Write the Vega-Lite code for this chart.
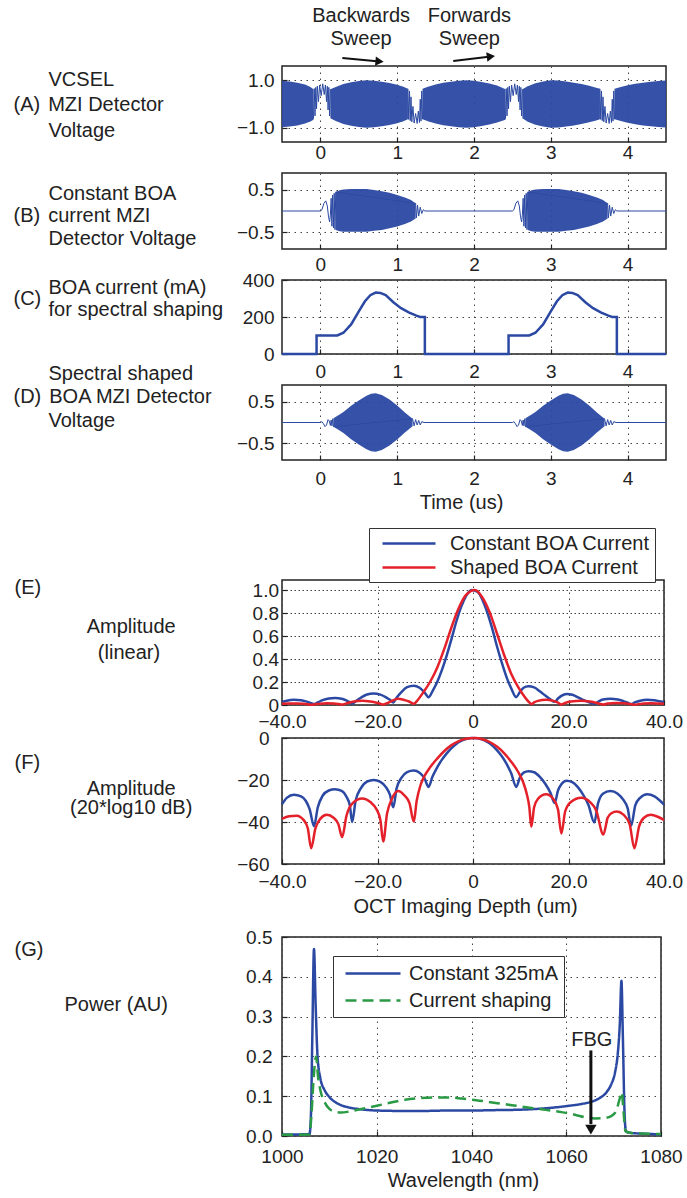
{
"$schema": "https://vega.github.io/schema/vega-lite/v6.json",
"padding": {"left": 12, "top": 5, "right": 5, "bottom": 2},
"config": {
 "font": "Liberation Sans",
 "view": {"stroke": "#222", "strokeWidth": 1.5},
 "axis": {"labelFontSize": 19, "labelColor": "#222", "titleFontSize": 20, "titleColor": "#222", "titleFontWeight": "normal", "domain": false, "tickColor": "#222", "tickSize": -5, "tickWidth": 1.2, "grid": true, "gridColor": "#444", "gridDash": [1.5, 4.5], "gridWidth": 1, "labelFlush": false, "labelOverlap": false},
 "legend": {"labelFontSize": 20, "labelColor": "#222", "strokeColor": "#333", "fillColor": "white", "symbolStrokeWidth": 2.5, "labelLimit": 400}
},
"datasets": {
 "envA": [
  {"seg":1,"t":-0.5,"v":-0.98,"v2":0.98},{"seg":1,"t":-0.4,"v":-0.95,"v2":0.95},{"seg":1,"t":-0.3,"v":-0.9,"v2":0.9},{"seg":1,"t":-0.2,"v":-0.82,"v2":0.82},{"seg":1,"t":-0.13,"v":-0.74,"v2":0.72},{"seg":1,"t":-0.09,"v":-0.66,"v2":0.62},
  {"seg":2,"t":0.13,"v":-0.6,"v2":0.62},{"seg":2,"t":0.2,"v":-0.72,"v2":0.72},{"seg":2,"t":0.3,"v":-0.84,"v2":0.84},{"seg":2,"t":0.4,"v":-0.92,"v2":0.92},{"seg":2,"t":0.5,"v":-0.97,"v2":0.97},{"seg":2,"t":0.6,"v":-1.0,"v2":1.0},{"seg":2,"t":0.7,"v":-0.98,"v2":0.98},{"seg":2,"t":0.8,"v":-0.94,"v2":0.94},{"seg":2,"t":0.9,"v":-0.88,"v2":0.88},{"seg":2,"t":1.0,"v":-0.81,"v2":0.81},{"seg":2,"t":1.08,"v":-0.73,"v2":0.73},{"seg":2,"t":1.14,"v":-0.64,"v2":0.64},
  {"seg":3,"t":1.33,"v":-0.64,"v2":0.64},{"seg":3,"t":1.4,"v":-0.73,"v2":0.73},{"seg":3,"t":1.5,"v":-0.82,"v2":0.82},{"seg":3,"t":1.6,"v":-0.89,"v2":0.89},{"seg":3,"t":1.7,"v":-0.94,"v2":0.94},{"seg":3,"t":1.8,"v":-0.98,"v2":0.98},{"seg":3,"t":1.9,"v":-1.0,"v2":1.0},{"seg":3,"t":2.0,"v":-0.98,"v2":0.98},{"seg":3,"t":2.1,"v":-0.93,"v2":0.93},{"seg":3,"t":2.2,"v":-0.86,"v2":0.86},{"seg":3,"t":2.3,"v":-0.78,"v2":0.78},{"seg":3,"t":2.36,"v":-0.72,"v2":0.7},{"seg":3,"t":2.41,"v":-0.66,"v2":0.62},
  {"seg":4,"t":2.63,"v":-0.6,"v2":0.62},{"seg":4,"t":2.7,"v":-0.75,"v2":0.75},{"seg":4,"t":2.8,"v":-0.87,"v2":0.87},{"seg":4,"t":2.9,"v":-0.95,"v2":0.95},{"seg":4,"t":3.0,"v":-1.0,"v2":1.0},{"seg":4,"t":3.1,"v":-0.99,"v2":0.99},{"seg":4,"t":3.2,"v":-0.95,"v2":0.95},{"seg":4,"t":3.3,"v":-0.9,"v2":0.9},{"seg":4,"t":3.4,"v":-0.84,"v2":0.84},{"seg":4,"t":3.5,"v":-0.77,"v2":0.77},{"seg":4,"t":3.58,"v":-0.7,"v2":0.7},{"seg":4,"t":3.64,"v":-0.64,"v2":0.64},
  {"seg":5,"t":3.83,"v":-0.64,"v2":0.64},{"seg":5,"t":3.9,"v":-0.71,"v2":0.71},{"seg":5,"t":4.0,"v":-0.79,"v2":0.79},{"seg":5,"t":4.1,"v":-0.85,"v2":0.85},{"seg":5,"t":4.2,"v":-0.9,"v2":0.9},{"seg":5,"t":4.3,"v":-0.94,"v2":0.94},{"seg":5,"t":4.4,"v":-0.97,"v2":0.97},{"seg":5,"t":4.5,"v":-0.99,"v2":0.99}
 ],
 "wigA": [
  {"seg":1,"t":-0.09,"v":-0.62},{"seg":1,"t":-0.08,"v":0.65},{"seg":1,"t":-0.07,"v":-0.5},{"seg":1,"t":-0.06,"v":0.7},{"seg":1,"t":-0.05,"v":-0.2},{"seg":1,"t":-0.04,"v":0.75},{"seg":1,"t":-0.025,"v":0.1},{"seg":1,"t":-0.01,"v":0.8},{"seg":1,"t":0.01,"v":0.35},{"seg":1,"t":0.03,"v":0.85},{"seg":1,"t":0.05,"v":0.4},{"seg":1,"t":0.065,"v":0.8},{"seg":1,"t":0.08,"v":0.1},{"seg":1,"t":0.09,"v":0.75},{"seg":1,"t":0.1,"v":-0.25},{"seg":1,"t":0.11,"v":0.7},{"seg":1,"t":0.12,"v":-0.5},{"seg":1,"t":0.13,"v":0.62},
  {"seg":2,"t":1.14,"v":0.64},{"seg":2,"t":1.15,"v":-0.65},{"seg":2,"t":1.16,"v":0.55},{"seg":2,"t":1.17,"v":-0.7},{"seg":2,"t":1.18,"v":0.3},{"seg":2,"t":1.19,"v":-0.75},{"seg":2,"t":1.205,"v":-0.1},{"seg":2,"t":1.22,"v":-0.8},{"seg":2,"t":1.24,"v":-0.4},{"seg":2,"t":1.26,"v":-0.82},{"seg":2,"t":1.275,"v":-0.3},{"seg":2,"t":1.29,"v":-0.78},{"seg":2,"t":1.3,"v":0.2},{"seg":2,"t":1.31,"v":-0.72},{"seg":2,"t":1.32,"v":0.55},{"seg":2,"t":1.33,"v":-0.64},
  {"seg":3,"t":2.41,"v":-0.62},{"seg":3,"t":2.42,"v":0.65},{"seg":3,"t":2.43,"v":-0.5},{"seg":3,"t":2.44,"v":0.7},{"seg":3,"t":2.45,"v":-0.2},{"seg":3,"t":2.46,"v":0.75},{"seg":3,"t":2.475,"v":0.1},{"seg":3,"t":2.49,"v":0.8},{"seg":3,"t":2.51,"v":0.35},{"seg":3,"t":2.53,"v":0.85},{"seg":3,"t":2.55,"v":0.4},{"seg":3,"t":2.565,"v":0.8},{"seg":3,"t":2.58,"v":0.1},{"seg":3,"t":2.59,"v":0.75},{"seg":3,"t":2.6,"v":-0.25},{"seg":3,"t":2.61,"v":0.7},{"seg":3,"t":2.62,"v":-0.5},{"seg":3,"t":2.63,"v":0.62},
  {"seg":4,"t":3.64,"v":0.64},{"seg":4,"t":3.65,"v":-0.65},{"seg":4,"t":3.66,"v":0.55},{"seg":4,"t":3.67,"v":-0.7},{"seg":4,"t":3.68,"v":0.3},{"seg":4,"t":3.69,"v":-0.75},{"seg":4,"t":3.705,"v":-0.1},{"seg":4,"t":3.72,"v":-0.8},{"seg":4,"t":3.74,"v":-0.4},{"seg":4,"t":3.76,"v":-0.82},{"seg":4,"t":3.775,"v":-0.3},{"seg":4,"t":3.79,"v":-0.78},{"seg":4,"t":3.8,"v":0.2},{"seg":4,"t":3.81,"v":-0.72},{"seg":4,"t":3.82,"v":0.55},{"seg":4,"t":3.83,"v":-0.64}
 ],
 "sweepText": [{"t":0.53,"v":3.71,"label":"Backwards\nSweep"},{"t":1.94,"v":3.71,"label":"Forwards\nSweep"}],
 "sweepArrows": [{"t":0.286,"v":1.94,"t2":0.77,"v2":1.79},{"t":1.73,"v":1.81,"t2":2.22,"v2":2.0}],
 "headBack": [{"t":0.77,"v":1.79}],
 "headFwd": [{"t":2.22,"v":2.0}],
 "lineB": [
  {"t":-0.5,"v":0},{"t":0.0,"v":0},{"t":0.02,"v":0.03},{"t":0.045,"v":0.18},{"t":0.07,"v":0.24},{"t":0.09,"v":0.12},{"t":0.105,"v":-0.12},{"t":0.12,"v":-0.26},{"t":0.13,"v":-0.1},{"t":0.14,"v":0.3},{"t":0.15,"v":-0.36},{"t":0.16,"v":0.38},{"t":0.17,"v":-0.4},{"t":0.18,"v":0.42},{"t":0.19,"v":-0.44},{"t":0.2,"v":0.45},
  {"t":1.24,"v":0.18},{"t":1.25,"v":-0.16},{"t":1.265,"v":0.14},{"t":1.28,"v":-0.12},{"t":1.3,"v":0.09},{"t":1.32,"v":-0.06},{"t":1.34,"v":0.03},{"t":1.36,"v":0},
  {"t":2.5,"v":0},{"t":2.52,"v":0.03},{"t":2.545,"v":0.18},{"t":2.57,"v":0.24},{"t":2.59,"v":0.12},{"t":2.605,"v":-0.12},{"t":2.62,"v":-0.26},{"t":2.63,"v":-0.1},{"t":2.64,"v":0.3},{"t":2.65,"v":-0.36},{"t":2.66,"v":0.38},{"t":2.67,"v":-0.4},{"t":2.68,"v":0.42},{"t":2.69,"v":-0.44},{"t":2.7,"v":0.45},
  {"t":3.74,"v":0.18},{"t":3.75,"v":-0.16},{"t":3.765,"v":0.14},{"t":3.78,"v":-0.12},{"t":3.8,"v":0.09},{"t":3.82,"v":-0.06},{"t":3.84,"v":0.03},{"t":3.86,"v":0},{"t":4.5,"v":0}
 ],
 "envB": [
  {"seg":1,"t":0.2,"v":-0.45,"v2":0.45},{"seg":1,"t":0.25,"v":-0.48,"v2":0.49},{"seg":1,"t":0.3,"v":-0.49,"v2":0.51},{"seg":1,"t":0.4,"v":-0.49,"v2":0.52},{"seg":1,"t":0.5,"v":-0.49,"v2":0.52},{"seg":1,"t":0.6,"v":-0.49,"v2":0.52},{"seg":1,"t":0.7,"v":-0.47,"v2":0.5},{"seg":1,"t":0.8,"v":-0.45,"v2":0.47},{"seg":1,"t":0.9,"v":-0.41,"v2":0.43},{"seg":1,"t":1.0,"v":-0.37,"v2":0.38},{"seg":1,"t":1.1,"v":-0.31,"v2":0.32},{"seg":1,"t":1.18,"v":-0.25,"v2":0.26},{"seg":1,"t":1.24,"v":-0.18,"v2":0.18},
  {"seg":2,"t":2.7,"v":-0.45,"v2":0.45},{"seg":2,"t":2.75,"v":-0.48,"v2":0.49},{"seg":2,"t":2.8,"v":-0.49,"v2":0.51},{"seg":2,"t":2.9,"v":-0.49,"v2":0.52},{"seg":2,"t":3.0,"v":-0.49,"v2":0.52},{"seg":2,"t":3.1,"v":-0.49,"v2":0.52},{"seg":2,"t":3.2,"v":-0.47,"v2":0.5},{"seg":2,"t":3.3,"v":-0.45,"v2":0.47},{"seg":2,"t":3.4,"v":-0.41,"v2":0.43},{"seg":2,"t":3.5,"v":-0.37,"v2":0.38},{"seg":2,"t":3.6,"v":-0.31,"v2":0.32},{"seg":2,"t":3.68,"v":-0.25,"v2":0.26},{"seg":2,"t":3.74,"v":-0.18,"v2":0.18}
 ],
 "lineC": [
  {"i":1,"t":-0.5,"v":0},{"i":2,"t":-0.05,"v":0},{"i":3,"t":-0.05,"v":100},{"i":4,"t":0.22,"v":100},{"i":5,"t":0.3,"v":115},{"i":6,"t":0.4,"v":160},{"i":7,"t":0.5,"v":230},{"i":8,"t":0.58,"v":285},{"i":9,"t":0.65,"v":318},{"i":10,"t":0.72,"v":332},{"i":11,"t":0.78,"v":330},{"i":12,"t":0.85,"v":318},{"i":13,"t":0.95,"v":280},{"i":14,"t":1.05,"v":248},{"i":15,"t":1.15,"v":225},{"i":16,"t":1.25,"v":207},{"i":17,"t":1.3,"v":200},{"i":18,"t":1.36,"v":200},{"i":19,"t":1.36,"v":0},
  {"i":20,"t":2.45,"v":0},{"i":21,"t":2.45,"v":100},{"i":22,"t":2.72,"v":100},{"i":23,"t":2.8,"v":115},{"i":24,"t":2.9,"v":160},{"i":25,"t":3.0,"v":230},{"i":26,"t":3.08,"v":285},{"i":27,"t":3.15,"v":318},{"i":28,"t":3.22,"v":332},{"i":29,"t":3.28,"v":330},{"i":30,"t":3.35,"v":318},{"i":31,"t":3.45,"v":280},{"i":32,"t":3.55,"v":248},{"i":33,"t":3.65,"v":225},{"i":34,"t":3.75,"v":207},{"i":35,"t":3.8,"v":200},{"i":36,"t":3.86,"v":200},{"i":37,"t":3.86,"v":0},{"i":38,"t":4.5,"v":0}
 ],
 "lineD": [
  {"t":-0.5,"v":0},{"t":0.0,"v":0},{"t":0.02,"v":0.02},{"t":0.04,"v":-0.03},{"t":0.06,"v":-0.1},{"t":0.08,"v":-0.06},{"t":0.1,"v":0.07},{"t":0.115,"v":0.04},{"t":0.13,"v":-0.07},{"t":0.14,"v":0.06},{"t":0.15,"v":-0.08},{"t":0.16,"v":0.09},{"t":0.17,"v":-0.1},
  {"t":1.2,"v":0.09},{"t":1.22,"v":-0.08},{"t":1.24,"v":0.07},{"t":1.26,"v":-0.06},{"t":1.28,"v":0.05},{"t":1.3,"v":-0.06},{"t":1.32,"v":0.02},{"t":1.35,"v":0},
  {"t":2.5,"v":0},{"t":2.52,"v":0.02},{"t":2.54,"v":-0.03},{"t":2.56,"v":-0.1},{"t":2.58,"v":-0.06},{"t":2.6,"v":0.07},{"t":2.615,"v":0.04},{"t":2.63,"v":-0.07},{"t":2.64,"v":0.06},{"t":2.65,"v":-0.08},{"t":2.66,"v":0.09},{"t":2.67,"v":-0.1},
  {"t":3.7,"v":0.09},{"t":3.72,"v":-0.08},{"t":3.74,"v":0.07},{"t":3.76,"v":-0.06},{"t":3.78,"v":0.05},{"t":3.8,"v":-0.06},{"t":3.82,"v":0.02},{"t":3.85,"v":0},{"t":4.5,"v":0}
 ],
 "envD": [
  {"seg":1,"t":0.17,"v":-0.1,"v2":0.1},{"seg":1,"t":0.25,"v":-0.19,"v2":0.19},{"seg":1,"t":0.3,"v":-0.25,"v2":0.25},{"seg":1,"t":0.4,"v":-0.4,"v2":0.4},{"seg":1,"t":0.5,"v":-0.53,"v2":0.53},{"seg":1,"t":0.6,"v":-0.64,"v2":0.64},{"seg":1,"t":0.66,"v":-0.69,"v2":0.69},{"seg":1,"t":0.72,"v":-0.7,"v2":0.7},{"seg":1,"t":0.8,"v":-0.66,"v2":0.66},{"seg":1,"t":0.9,"v":-0.55,"v2":0.55},{"seg":1,"t":1.0,"v":-0.41,"v2":0.41},{"seg":1,"t":1.1,"v":-0.24,"v2":0.24},{"seg":1,"t":1.2,"v":-0.09,"v2":0.09},
  {"seg":2,"t":2.67,"v":-0.1,"v2":0.1},{"seg":2,"t":2.75,"v":-0.19,"v2":0.19},{"seg":2,"t":2.8,"v":-0.25,"v2":0.25},{"seg":2,"t":2.9,"v":-0.4,"v2":0.4},{"seg":2,"t":3.0,"v":-0.53,"v2":0.53},{"seg":2,"t":3.1,"v":-0.64,"v2":0.64},{"seg":2,"t":3.16,"v":-0.69,"v2":0.69},{"seg":2,"t":3.22,"v":-0.7,"v2":0.7},{"seg":2,"t":3.3,"v":-0.66,"v2":0.66},{"seg":2,"t":3.4,"v":-0.55,"v2":0.55},{"seg":2,"t":3.5,"v":-0.41,"v2":0.41},{"seg":2,"t":3.6,"v":-0.24,"v2":0.24},{"seg":2,"t":3.7,"v":-0.09,"v2":0.09}
 ],
 "psf": [
  {"curve":"Constant BOA Current","x":-40,"db":-31.5,"amp":0.0266},{"curve":"Constant BOA Current","x":-39,"db":-28.5,"amp":0.0376},{"curve":"Constant BOA Current","x":-37.5,"db":-27,"amp":0.0447},{"curve":"Constant BOA Current","x":-36,"db":-27.8,"amp":0.0407},{"curve":"Constant BOA Current","x":-35,"db":-30,"amp":0.0316},{"curve":"Constant BOA Current","x":-34.2,"db":-34,"amp":0.02},{"curve":"Constant BOA Current","x":-33.3,"db":-42,"amp":0.0079},{"curve":"Constant BOA Current","x":-32.5,"db":-33,"amp":0.0224},{"curve":"Constant BOA Current","x":-31.5,"db":-27.5,"amp":0.0422},{"curve":"Constant BOA Current","x":-30.2,"db":-25,"amp":0.0562},{"curve":"Constant BOA Current","x":-28.9,"db":-24.4,"amp":0.0603},{"curve":"Constant BOA Current","x":-27.5,"db":-25.2,"amp":0.055},{"curve":"Constant BOA Current","x":-26.5,"db":-28,"amp":0.0398},{"curve":"Constant BOA Current","x":-25.8,"db":-32,"amp":0.0251},{"curve":"Constant BOA Current","x":-25.3,"db":-40,"amp":0.01},{"curve":"Constant BOA Current","x":-24.6,"db":-30,"amp":0.0316},{"curve":"Constant BOA Current","x":-23.5,"db":-24,"amp":0.0631},{"curve":"Constant BOA Current","x":-22.2,"db":-20.8,"amp":0.0912},{"curve":"Constant BOA Current","x":-20.8,"db":-20,"amp":0.1},{"curve":"Constant BOA Current","x":-19.4,"db":-20.9,"amp":0.0902},{"curve":"Constant BOA Current","x":-18.2,"db":-23.5,"amp":0.0668},{"curve":"Constant BOA Current","x":-17.4,"db":-27,"amp":0.0447},{"curve":"Constant BOA Current","x":-16.7,"db":-33,"amp":0.0224},{"curve":"Constant BOA Current","x":-16,"db":-24,"amp":0.0631},{"curve":"Constant BOA Current","x":-15,"db":-19,"amp":0.112},{"curve":"Constant BOA Current","x":-13.8,"db":-16.2,"amp":0.155},{"curve":"Constant BOA Current","x":-12.4,"db":-15.5,"amp":0.168},{"curve":"Constant BOA Current","x":-11.2,"db":-16.5,"amp":0.15},{"curve":"Constant BOA Current","x":-10.2,"db":-19,"amp":0.112},{"curve":"Constant BOA Current","x":-9.3,"db":-23.3,"amp":0.0684},{"curve":"Constant BOA Current","x":-8.5,"db":-18.5,"amp":0.119},{"curve":"Constant BOA Current","x":-7.5,"db":-14,"amp":0.2},{"curve":"Constant BOA Current","x":-6.5,"db":-10.3,"amp":0.305},{"curve":"Constant BOA Current","x":-5.5,"db":-7.3,"amp":0.432},{"curve":"Constant BOA Current","x":-4.5,"db":-4.8,"amp":0.575},{"curve":"Constant BOA Current","x":-3.5,"db":-2.8,"amp":0.724},{"curve":"Constant BOA Current","x":-2.5,"db":-1.4,"amp":0.851},{"curve":"Constant BOA Current","x":-1.5,"db":-0.5,"amp":0.944},{"curve":"Constant BOA Current","x":-0.3,"db":0,"amp":1.0},{"curve":"Constant BOA Current","x":1,"db":-0.15,"amp":0.983},{"curve":"Constant BOA Current","x":2,"db":-0.8,"amp":0.912},{"curve":"Constant BOA Current","x":3,"db":-1.9,"amp":0.804},{"curve":"Constant BOA Current","x":4,"db":-3.5,"amp":0.668},{"curve":"Constant BOA Current","x":5,"db":-5.8,"amp":0.513},{"curve":"Constant BOA Current","x":6,"db":-8.6,"amp":0.372},{"curve":"Constant BOA Current","x":7,"db":-12.2,"amp":0.245},{"curve":"Constant BOA Current","x":8,"db":-16.8,"amp":0.145},{"curve":"Constant BOA Current","x":9.06,"db":-23.3,"amp":0.0684},{"curve":"Constant BOA Current","x":9.8,"db":-19,"amp":0.112},{"curve":"Constant BOA Current","x":10.6,"db":-16.5,"amp":0.15},{"curve":"Constant BOA Current","x":11.6,"db":-15.8,"amp":0.162},{"curve":"Constant BOA Current","x":12.8,"db":-16.3,"amp":0.153},{"curve":"Constant BOA Current","x":14,"db":-18.5,"amp":0.119},{"curve":"Constant BOA Current","x":15.2,"db":-22,"amp":0.0794},{"curve":"Constant BOA Current","x":16.2,"db":-26,"amp":0.0501},{"curve":"Constant BOA Current","x":17.1,"db":-31,"amp":0.0282},{"curve":"Constant BOA Current","x":17.8,"db":-25,"amp":0.0562},{"curve":"Constant BOA Current","x":18.5,"db":-22,"amp":0.0794},{"curve":"Constant BOA Current","x":19.6,"db":-20.3,"amp":0.0966},{"curve":"Constant BOA Current","x":20.8,"db":-21,"amp":0.0891},{"curve":"Constant BOA Current","x":22,"db":-23.5,"amp":0.0668},{"curve":"Constant BOA Current","x":23.2,"db":-27.5,"amp":0.0422},{"curve":"Constant BOA Current","x":24.2,"db":-32,"amp":0.0251},{"curve":"Constant BOA Current","x":25.4,"db":-40.2,"amp":0.0098},{"curve":"Constant BOA Current","x":26.2,"db":-31,"amp":0.0282},{"curve":"Constant BOA Current","x":27.2,"db":-26.5,"amp":0.0473},{"curve":"Constant BOA Current","x":28.8,"db":-25.2,"amp":0.055},{"curve":"Constant BOA Current","x":30.3,"db":-26.5,"amp":0.0473},{"curve":"Constant BOA Current","x":31.5,"db":-29.5,"amp":0.0335},{"curve":"Constant BOA Current","x":32.4,"db":-33.5,"amp":0.0211},{"curve":"Constant BOA Current","x":33.1,"db":-41.8,"amp":0.0081},{"curve":"Constant BOA Current","x":34,"db":-32,"amp":0.0251},{"curve":"Constant BOA Current","x":35,"db":-28.5,"amp":0.0376},{"curve":"Constant BOA Current","x":36.5,"db":-26.8,"amp":0.0457},{"curve":"Constant BOA Current","x":38,"db":-27.8,"amp":0.0407},{"curve":"Constant BOA Current","x":39,"db":-29.5,"amp":0.0335},{"curve":"Constant BOA Current","x":40,"db":-31.7,"amp":0.026},
  {"curve":"Shaped BOA Current","x":-40,"db":-38.5,"amp":0.0119},{"curve":"Shaped BOA Current","x":-38.5,"db":-37.3,"amp":0.0137},{"curve":"Shaped BOA Current","x":-36.9,"db":-37,"amp":0.0141},{"curve":"Shaped BOA Current","x":-35.5,"db":-39,"amp":0.0112},{"curve":"Shaped BOA Current","x":-34.6,"db":-43,"amp":0.0071},{"curve":"Shaped BOA Current","x":-33.9,"db":-52.5,"amp":0.0024},{"curve":"Shaped BOA Current","x":-33,"db":-43,"amp":0.0071},{"curve":"Shaped BOA Current","x":-32,"db":-38.5,"amp":0.0119},{"curve":"Shaped BOA Current","x":-30.6,"db":-36.6,"amp":0.0148},{"curve":"Shaped BOA Current","x":-29.2,"db":-38,"amp":0.0126},{"curve":"Shaped BOA Current","x":-28.2,"db":-41,"amp":0.0089},{"curve":"Shaped BOA Current","x":-27.4,"db":-47.2,"amp":0.0044},{"curve":"Shaped BOA Current","x":-26.5,"db":-37,"amp":0.0141},{"curve":"Shaped BOA Current","x":-25.2,"db":-31,"amp":0.0282},{"curve":"Shaped BOA Current","x":-23.2,"db":-28.8,"amp":0.0363},{"curve":"Shaped BOA Current","x":-21.5,"db":-30.5,"amp":0.0299},{"curve":"Shaped BOA Current","x":-20.2,"db":-34,"amp":0.02},{"curve":"Shaped BOA Current","x":-19.4,"db":-39,"amp":0.0112},{"curve":"Shaped BOA Current","x":-18.8,"db":-49.3,"amp":0.0034},{"curve":"Shaped BOA Current","x":-18,"db":-36,"amp":0.0158},{"curve":"Shaped BOA Current","x":-17,"db":-29,"amp":0.0355},{"curve":"Shaped BOA Current","x":-15.7,"db":-25.2,"amp":0.055},{"curve":"Shaped BOA Current","x":-14.3,"db":-27.5,"amp":0.0422},{"curve":"Shaped BOA Current","x":-13.3,"db":-31,"amp":0.0282},{"curve":"Shaped BOA Current","x":-12.4,"db":-39.8,"amp":0.0102},{"curve":"Shaped BOA Current","x":-11.8,"db":-30,"amp":0.0316},{"curve":"Shaped BOA Current","x":-11,"db":-22.5,"amp":0.075},{"curve":"Shaped BOA Current","x":-10.3,"db":-18.7,"amp":0.116},{"curve":"Shaped BOA Current","x":-9,"db":-14,"amp":0.2},{"curve":"Shaped BOA Current","x":-7.5,"db":-9.8,"amp":0.324},{"curve":"Shaped BOA Current","x":-6,"db":-6.2,"amp":0.49},{"curve":"Shaped BOA Current","x":-4.5,"db":-3.4,"amp":0.676},{"curve":"Shaped BOA Current","x":-3,"db":-1.5,"amp":0.841},{"curve":"Shaped BOA Current","x":-1.5,"db":-0.4,"amp":0.955},{"curve":"Shaped BOA Current","x":0.4,"db":0,"amp":1.0},{"curve":"Shaped BOA Current","x":2,"db":-0.6,"amp":0.933},{"curve":"Shaped BOA Current","x":3.5,"db":-1.9,"amp":0.804},{"curve":"Shaped BOA Current","x":5,"db":-4.1,"amp":0.624},{"curve":"Shaped BOA Current","x":6.5,"db":-7.2,"amp":0.437},{"curve":"Shaped BOA Current","x":8,"db":-11.3,"amp":0.272},{"curve":"Shaped BOA Current","x":9.5,"db":-16.3,"amp":0.153},{"curve":"Shaped BOA Current","x":10.5,"db":-21,"amp":0.0891},{"curve":"Shaped BOA Current","x":11.3,"db":-27,"amp":0.0447},{"curve":"Shaped BOA Current","x":11.8,"db":-33,"amp":0.0224},{"curve":"Shaped BOA Current","x":12.2,"db":-42.3,"amp":0.0077},{"curve":"Shaped BOA Current","x":12.8,"db":-33,"amp":0.0224},{"curve":"Shaped BOA Current","x":13.6,"db":-29,"amp":0.0355},{"curve":"Shaped BOA Current","x":15.3,"db":-26.8,"amp":0.0457},{"curve":"Shaped BOA Current","x":16.8,"db":-29,"amp":0.0355},{"curve":"Shaped BOA Current","x":17.8,"db":-34,"amp":0.02},{"curve":"Shaped BOA Current","x":18.5,"db":-45.5,"amp":0.0053},{"curve":"Shaped BOA Current","x":19.3,"db":-35,"amp":0.0178},{"curve":"Shaped BOA Current","x":20.5,"db":-30.5,"amp":0.0299},{"curve":"Shaped BOA Current","x":22.7,"db":-28.5,"amp":0.0376},{"curve":"Shaped BOA Current","x":24.5,"db":-30.5,"amp":0.0299},{"curve":"Shaped BOA Current","x":25.8,"db":-34.5,"amp":0.0188},{"curve":"Shaped BOA Current","x":27.3,"db":-46,"amp":0.005},{"curve":"Shaped BOA Current","x":28.2,"db":-38,"amp":0.0126},{"curve":"Shaped BOA Current","x":29,"db":-35.8,"amp":0.0162},{"curve":"Shaped BOA Current","x":30.1,"db":-35,"amp":0.0178},{"curve":"Shaped BOA Current","x":31.5,"db":-36.5,"amp":0.015},{"curve":"Shaped BOA Current","x":32.8,"db":-41,"amp":0.0089},{"curve":"Shaped BOA Current","x":33.8,"db":-52.5,"amp":0.0024},{"curve":"Shaped BOA Current","x":34.8,"db":-42,"amp":0.0079},{"curve":"Shaped BOA Current","x":35.8,"db":-38,"amp":0.0126},{"curve":"Shaped BOA Current","x":37.2,"db":-36.6,"amp":0.0148},{"curve":"Shaped BOA Current","x":38.7,"db":-37.5,"amp":0.0133},{"curve":"Shaped BOA Current","x":40,"db":-39,"amp":0.0112}
 ],
 "spec": [
  {"curve":"Constant 325mA","wl":1000,"p":0.004},{"curve":"Constant 325mA","wl":1003,"p":0.004},{"curve":"Constant 325mA","wl":1005.8,"p":0.005},{"curve":"Constant 325mA","wl":1006.1,"p":0.05},{"curve":"Constant 325mA","wl":1006.4,"p":0.25},{"curve":"Constant 325mA","wl":1006.75,"p":0.47},{"curve":"Constant 325mA","wl":1007.1,"p":0.33},{"curve":"Constant 325mA","wl":1007.5,"p":0.2},{"curve":"Constant 325mA","wl":1008.1,"p":0.145},{"curve":"Constant 325mA","wl":1009,"p":0.115},{"curve":"Constant 325mA","wl":1010,"p":0.098},{"curve":"Constant 325mA","wl":1012,"p":0.08},{"curve":"Constant 325mA","wl":1014,"p":0.072},{"curve":"Constant 325mA","wl":1016,"p":0.068},{"curve":"Constant 325mA","wl":1020,"p":0.064},{"curve":"Constant 325mA","wl":1025,"p":0.063},{"curve":"Constant 325mA","wl":1030,"p":0.063},{"curve":"Constant 325mA","wl":1035,"p":0.064},{"curve":"Constant 325mA","wl":1040,"p":0.064},{"curve":"Constant 325mA","wl":1045,"p":0.065},{"curve":"Constant 325mA","wl":1050,"p":0.066},{"curve":"Constant 325mA","wl":1055,"p":0.069},{"curve":"Constant 325mA","wl":1060,"p":0.075},{"curve":"Constant 325mA","wl":1063,"p":0.08},{"curve":"Constant 325mA","wl":1065,"p":0.085},{"curve":"Constant 325mA","wl":1067,"p":0.095},{"curve":"Constant 325mA","wl":1068.5,"p":0.11},{"curve":"Constant 325mA","wl":1069.5,"p":0.13},{"curve":"Constant 325mA","wl":1070.3,"p":0.16},{"curve":"Constant 325mA","wl":1070.9,"p":0.21},{"curve":"Constant 325mA","wl":1071.3,"p":0.28},{"curve":"Constant 325mA","wl":1071.65,"p":0.39},{"curve":"Constant 325mA","wl":1071.95,"p":0.25},{"curve":"Constant 325mA","wl":1072.3,"p":0.06},{"curve":"Constant 325mA","wl":1072.6,"p":0.012},{"curve":"Constant 325mA","wl":1073.5,"p":0.008},{"curve":"Constant 325mA","wl":1076,"p":0.006},{"curve":"Constant 325mA","wl":1080,"p":0.004},
  {"curve":"Current shaping","wl":1000,"p":0.003},{"curve":"Current shaping","wl":1005.8,"p":0.004},{"curve":"Current shaping","wl":1006.2,"p":0.05},{"curve":"Current shaping","wl":1006.7,"p":0.15},{"curve":"Current shaping","wl":1007.2,"p":0.2},{"curve":"Current shaping","wl":1007.6,"p":0.15},{"curve":"Current shaping","wl":1008.1,"p":0.115},{"curve":"Current shaping","wl":1009,"p":0.085},{"curve":"Current shaping","wl":1010,"p":0.068},{"curve":"Current shaping","wl":1011,"p":0.062},{"curve":"Current shaping","wl":1012.5,"p":0.059},{"curve":"Current shaping","wl":1014,"p":0.061},{"curve":"Current shaping","wl":1016,"p":0.066},{"curve":"Current shaping","wl":1018,"p":0.071},{"curve":"Current shaping","wl":1020,"p":0.076},{"curve":"Current shaping","wl":1023,"p":0.084},{"curve":"Current shaping","wl":1026,"p":0.091},{"curve":"Current shaping","wl":1029,"p":0.095},{"curve":"Current shaping","wl":1032,"p":0.097},{"curve":"Current shaping","wl":1035,"p":0.097},{"curve":"Current shaping","wl":1038,"p":0.094},{"curve":"Current shaping","wl":1041,"p":0.09},{"curve":"Current shaping","wl":1044,"p":0.085},{"curve":"Current shaping","wl":1047,"p":0.08},{"curve":"Current shaping","wl":1050,"p":0.075},{"curve":"Current shaping","wl":1053,"p":0.07},{"curve":"Current shaping","wl":1056,"p":0.065},{"curve":"Current shaping","wl":1059,"p":0.06},{"curve":"Current shaping","wl":1062,"p":0.053},{"curve":"Current shaping","wl":1064,"p":0.047},{"curve":"Current shaping","wl":1066,"p":0.044},{"curve":"Current shaping","wl":1068,"p":0.045},{"curve":"Current shaping","wl":1069.5,"p":0.05},{"curve":"Current shaping","wl":1070.5,"p":0.062},{"curve":"Current shaping","wl":1071.2,"p":0.09},{"curve":"Current shaping","wl":1071.7,"p":0.11},{"curve":"Current shaping","wl":1072.1,"p":0.06},{"curve":"Current shaping","wl":1072.5,"p":0.012},{"curve":"Current shaping","wl":1073.5,"p":0.008},{"curve":"Current shaping","wl":1076,"p":0.006},{"curve":"Current shaping","wl":1080,"p":0.005}
 ],
 "fbgArrow": [{"wl":1065.2,"p":0.215,"p2":0.03}],
 "fbgHead": [{"wl":1065.2,"p":0.016}],
 "fbgText": [{"wl":1065.4,"p":0.241,"label":"FBG"}]
},
"columns": 1,
"spacing": 13,
"resolve": {"scale": {"color": "independent", "strokeDash": "independent"}, "legend": {"color": "independent", "strokeDash": "independent"}},
"concat": [
 {
  "bounds": "flush",
  "spacing": 31,
  "vconcat": [
   {
    "width": 384, "height": 76,
    "encoding": {
     "x": {"field": "t", "type": "quantitative", "scale": {"domain": [-0.5, 4.5], "nice": false, "zero": false}, "axis": {"values": [0,1,2,3,4], "format": "d", "title": null, "labelPadding": 6.8}},
     "y": {"field": "v", "type": "quantitative", "scale": {"domain": [-1.6, 1.6], "nice": false, "zero": false}, "axis": {"values": [-1, 1], "format": ".1f", "labelPadding": 13, "title": ["\u200b\u00a0\u00a0\u00a0\u00a0\u00a0\u00a0\u200aVCSEL", "(A)\u2009\u2009MZI Detector", "\u200b\u00a0\u00a0\u00a0\u00a0\u00a0\u00a0\u200aVoltage"], "titleAngle": 0, "titleAlign": "left", "titleBaseline": "middle", "titleX": -269, "titleY": 13.2, "titleLineHeight": 25.8}}
    },
    "layer": [
     {"data": {"name": "envA"}, "mark": {"type": "area", "color": "#2b49a3", "opacity": 0.95}, "encoding": {"y2": {"field": "v2"}, "detail": {"field": "seg"}}},
     {"data": {"name": "wigA"}, "mark": {"type": "line", "color": "#2b49a3", "strokeWidth": 1}, "encoding": {"detail": {"field": "seg"}}},
     {"data": {"name": "sweepText"}, "mark": {"type": "text", "fontSize": 20, "color": "#222", "lineBreak": "\n", "lineHeight": 23, "baseline": "middle", "align": "center"}, "encoding": {"text": {"field": "label"}}},
     {"data": {"name": "sweepArrows"}, "mark": {"type": "rule", "color": "#111", "strokeWidth": 2}, "encoding": {"x2": {"field": "t2"}, "y2": {"field": "v2"}}},
     {"data": {"name": "headBack"}, "mark": {"type": "point", "shape": "triangle-right", "filled": true, "color": "#111", "opacity": 1, "size": 90, "angle": 5}, "encoding": {}},
     {"data": {"name": "headFwd"}, "mark": {"type": "point", "shape": "triangle-right", "filled": true, "color": "#111", "opacity": 1, "size": 90, "angle": -7}, "encoding": {}}
    ]
   },
   {
    "width": 384, "height": 76,
    "encoding": {
     "x": {"field": "t", "type": "quantitative", "scale": {"domain": [-0.5, 4.5], "nice": false, "zero": false}, "axis": {"values": [0,1,2,3,4], "format": "d", "title": null, "labelPadding": 11.8}},
     "y": {"field": "v", "type": "quantitative", "scale": {"domain": [-0.9, 0.9], "nice": false, "zero": false}, "axis": {"values": [-0.5, 0.5], "format": ".1f", "labelPadding": 13, "title": ["\u200b\u00a0\u00a0\u00a0\u00a0\u00a0\u00a0\u200aConstant BOA", "(B)\u2009\u2009current MZI", "\u200b\u00a0\u00a0\u00a0\u00a0\u00a0\u00a0\u200aDetector Voltage"], "titleAngle": 0, "titleAlign": "left", "titleBaseline": "middle", "titleX": -269, "titleY": 20.2, "titleLineHeight": 22.5}}
    },
    "layer": [
     {"data": {"name": "lineB"}, "mark": {"type": "line", "color": "#2b49a3", "strokeWidth": 1}},
     {"data": {"name": "envB"}, "mark": {"type": "area", "color": "#2b49a3", "opacity": 0.95}, "encoding": {"y2": {"field": "v2"}, "detail": {"field": "seg"}}}
    ]
   },
   {
    "width": 384, "height": 74,
    "data": {"name": "lineC"},
    "mark": {"type": "line", "color": "#2b49a3", "strokeWidth": 2.5},
    "encoding": {
     "x": {"field": "t", "type": "quantitative", "scale": {"domain": [-0.5, 4.5], "nice": false, "zero": false}, "axis": {"values": [0,1,2,3,4], "format": "d", "title": null, "labelPadding": 13.5}},
     "y": {"field": "v", "type": "quantitative", "scale": {"domain": [0, 400], "nice": false, "zero": false}, "axis": {"values": [0, 200, 400], "format": "d", "labelPadding": 13, "title": ["\u200b\u00a0\u00a0\u00a0\u00a0\u00a0\u00a0\u200aBOA current (mA)", "(C)", "\u200b\u00a0\u00a0\u00a0\u00a0\u00a0\u00a0\u200afor spectral shaping"], "titleAngle": 0, "titleAlign": "left", "titleBaseline": "middle", "titleX": -269, "titleY": 7, "titleLineHeight": 11}},
     "order": {"field": "i", "type": "quantitative"}
    }
   },
   {
    "width": 384, "height": 75,
    "encoding": {
     "x": {"field": "t", "type": "quantitative", "scale": {"domain": [-0.5, 4.5], "nice": false, "zero": false}, "axis": {"values": [0,1,2,3,4], "format": "d", "labelPadding": 14, "title": "Time (us)", "titleX": 179, "titleY": 42, "titleBaseline": "middle", "titleAlign": "center"}},
     "y": {"field": "v", "type": "quantitative", "scale": {"domain": [-0.9, 0.9], "nice": false, "zero": false}, "axis": {"values": [-0.5, 0.5], "format": ".1f", "labelPadding": 13, "title": ["\u200b\u00a0\u00a0\u00a0\u00a0\u00a0\u00a0\u200aSpectral shaped", "(D)\u2009\u2009BOA MZI Detector", "\u200b\u00a0\u00a0\u00a0\u00a0\u00a0\u00a0\u200aVoltage"], "titleAngle": 0, "titleAlign": "left", "titleBaseline": "middle", "titleX": -269, "titleY": -11.7, "titleLineHeight": 23.4}}
    },
    "layer": [
     {"data": {"name": "lineD"}, "mark": {"type": "line", "color": "#2b49a3", "strokeWidth": 1}},
     {"data": {"name": "envD"}, "mark": {"type": "area", "color": "#2b49a3", "opacity": 0.95}, "encoding": {"y2": {"field": "v2"}, "detail": {"field": "seg"}}}
    ]
   }
  ]
 },
 {
  "columns": 1,
  "spacing": 10,
  "resolve": {"scale": {"color": "independent", "strokeDash": "independent"}, "legend": {"color": "independent", "strokeDash": "independent"}},
  "concat": [
   {
    "bounds": "flush",
    "spacing": 33,
    "resolve": {"scale": {"color": "independent"}, "legend": {"color": "independent"}},
    "vconcat": [
     {
      "width": 382, "height": 125,
      "data": {"name": "psf"},
      "mark": {"type": "line", "strokeWidth": 2.5, "interpolate": "monotone"},
      "encoding": {
       "x": {"field": "x", "type": "quantitative", "scale": {"domain": [-40, 40], "nice": false, "zero": false}, "axis": {"values": [-40,-20,0,20,40], "labelExpr": "datum.value == 0 ? '0' : format(datum.value, '.1f')", "title": null, "labelPadding": 12}},
       "y": {"field": "amp", "type": "quantitative", "scale": {"domain": [0, 1.087], "nice": false, "zero": false}, "axis": {"values": [0, 0.2, 0.4, 0.6, 0.8, 1.0], "labelExpr": "datum.value == 0 ? '0' : format(datum.value, '.1f')", "labelPadding": 8.5, "gridDash": [1.5, 2.5], "title": ["(E)", "\u200b", "\u200b", "\u200b\u00a0\u00a0\u00a0\u00a0\u00a0\u00a0\u00a0\u00a0\u00a0\u00a0\u00a0\u00a0\u00a0Amplitude", "\u200b", "\u200b\u00a0\u00a0\u00a0\u00a0\u00a0\u00a0\u00a0\u00a0\u00a0\u00a0\u00a0\u00a0\u00a0\u00a0\u00a0(linear)"], "titleAngle": 0, "titleAlign": "left", "titleBaseline": "middle", "titleX": -268, "titleY": 7, "titleLineHeight": 13}},
       "color": {"field": "curve", "type": "nominal", "scale": {"domain": ["Constant BOA Current", "Shaped BOA Current"], "range": ["#2b49a3", "#e4212b"]}, "legend": {"orient": "none", "legendX": 87, "legendY": -52, "title": null, "symbolType": "M-0.2,0L5.1,0", "symbolSize": 400, "labelOffset": 54, "padding": 4, "rowPadding": 2}}
      }
     },
     {
      "width": 382, "height": 126,
      "data": {"name": "psf"},
      "mark": {"type": "line", "strokeWidth": 2.5, "interpolate": "monotone"},
      "encoding": {
       "x": {"field": "x", "type": "quantitative", "scale": {"domain": [-40, 40], "nice": false, "zero": false}, "axis": {"values": [-40,-20,0,20,40], "labelExpr": "datum.value == 0 ? '0' : format(datum.value, '.1f')", "labelPadding": 13.8, "title": "OCT Imaging Depth (um)", "titleX": 183, "titleY": 42, "titleBaseline": "middle", "titleAlign": "center"}},
       "y": {"field": "db", "type": "quantitative", "scale": {"domain": [-60, 0], "nice": false, "zero": false}, "axis": {"values": [-60, -40, -20, 0], "format": "d", "labelPadding": 18, "title": ["(F)", "\u200b", "\u200b", "\u200b", "\u200b\u00a0\u00a0\u00a0\u00a0\u00a0\u00a0\u00a0\u00a0\u00a0\u00a0\u00a0\u00a0\u00a0Amplitude", "\u200b", "\u200b", "\u200b\u00a0\u00a0\u00a0\u00a0\u00a0\u00a0\u00a0\u00a0\u00a0\u00a0(20*log10 dB)"], "titleAngle": 0, "titleAlign": "left", "titleBaseline": "middle", "titleX": -268, "titleY": 24, "titleLineHeight": 6.5}},
       "color": {"field": "curve", "type": "nominal", "scale": {"domain": ["Constant BOA Current", "Shaped BOA Current"], "range": ["#2b49a3", "#e4212b"]}, "legend": null}
      }
     }
    ]
   },
   {
    "width": 379, "height": 199,
    "encoding": {
     "x": {"field": "wl", "type": "quantitative", "scale": {"domain": [1000, 1080], "nice": false, "zero": false}, "axis": {"values": [1000,1020,1040,1060,1080], "format": "d", "labelPadding": 16.5, "title": "Wavelength (nm)", "titleX": 181, "titleY": 44, "titleBaseline": "middle", "titleAlign": "center"}},
     "y": {"field": "p", "type": "quantitative", "scale": {"domain": [0, 0.5], "nice": false, "zero": false}, "axis": {"values": [0, 0.1, 0.2, 0.3, 0.4, 0.5], "format": ".1f", "labelPadding": 15, "title": ["(G)", "\u200b", "\u200b", "\u200b", "\u200b\u00a0\u00a0\u00a0\u00a0\u00a0\u00a0\u00a0\u00a0\u00a0Power (AU)"], "titleAngle": 0, "titleAlign": "left", "titleBaseline": "middle", "titleX": -268, "titleY": 12, "titleLineHeight": 13.75}}
    },
    "layer": [
     {"data": {"name": "spec"}, "mark": {"type": "line", "strokeWidth": 2.5, "interpolate": "monotone"},
      "encoding": {
       "color": {"field": "curve", "type": "nominal", "scale": {"domain": ["Constant 325mA", "Current shaping"], "range": ["#2b49a3", "#2a9a45"]}, "legend": {"orient": "none", "legendX": 51, "legendY": 19, "title": null, "symbolType": "M-0.5,0L5,0", "symbolSize": 400, "labelOffset": 47, "padding": 6, "rowPadding": 5}},
       "strokeDash": {"field": "curve", "type": "nominal", "scale": {"domain": ["Constant 325mA", "Current shaping"], "range": [[1, 0], [11, 6]]}, "legend": {"orient": "none", "legendX": 51, "legendY": 19, "title": null, "symbolType": "M-0.5,0L5,0", "symbolSize": 400, "labelOffset": 47, "padding": 6, "rowPadding": 5}}
      }},
     {"data": {"name": "fbgArrow"}, "mark": {"type": "rule", "color": "#111", "strokeWidth": 3}, "encoding": {"y2": {"field": "p2"}}},
     {"data": {"name": "fbgHead"}, "mark": {"type": "point", "shape": "triangle-down", "filled": true, "color": "#111", "opacity": 1, "size": 130}, "encoding": {}},
     {"data": {"name": "fbgText"}, "mark": {"type": "text", "fontSize": 20, "color": "#222", "baseline": "middle", "align": "center"}, "encoding": {"text": {"field": "label"}}}
    ]
   }
  ]
 }
]
}
